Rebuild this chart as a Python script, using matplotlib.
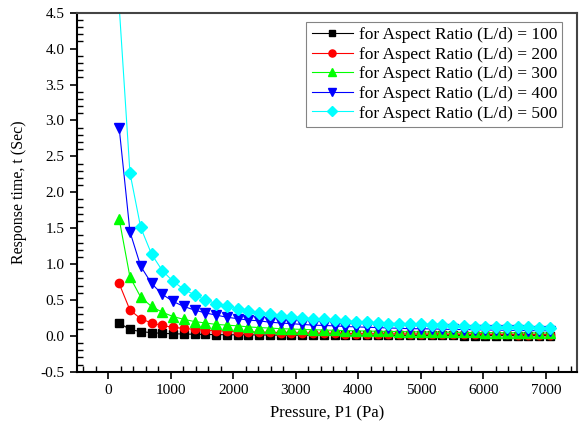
import matplotlib
matplotlib.use("Agg")
import matplotlib.pyplot as plt
from matplotlib.ticker import MultipleLocator

plt.rcParams['font.family'] = ['Liberation Serif', 'DejaVu Serif']
plt.rcParams['axes.unicode_minus'] = False

# inlet pressure P1 (Pa)
pressure = [172, 345, 517, 690, 862, 1034, 1207, 1379, 1551, 1724, 1896,
            2069, 2241, 2413, 2586, 2758, 2930, 3103, 3275, 3447, 3620,
            3792, 3965, 4137, 4309, 4482, 4654, 4826, 4999, 5171, 5343,
            5516, 5688, 5861, 6033, 6205, 6378, 6550, 6722, 6895, 7067]

# response time t (s) for each aspect ratio
t_100 = [0.18, 0.09, 0.06, 0.045, 0.036, 0.03, 0.026, 0.023, 0.02, 0.018,
         0.016, 0.015, 0.014, 0.013, 0.012, 0.011, 0.011, 0.01, 0.009, 0.009,
         0.009, 0.008, 0.008, 0.008, 0.007, 0.007, 0.007, 0.006, 0.006, 0.006,
         0.006, 0.006, 0.005, 0.005, 0.005, 0.005, 0.005, 0.005, 0.005, 0.005,
         0.004]
t_200 = [0.73, 0.36, 0.24, 0.18, 0.145, 0.12, 0.104, 0.091, 0.081, 0.073,
         0.066, 0.06, 0.056, 0.052, 0.048, 0.045, 0.043, 0.04, 0.038, 0.036,
         0.035, 0.033, 0.032, 0.03, 0.029, 0.028, 0.027, 0.026, 0.025, 0.024,
         0.023, 0.023, 0.022, 0.021, 0.021, 0.02, 0.02, 0.019, 0.019, 0.018,
         0.018]
t_300 = [1.63, 0.82, 0.54, 0.41, 0.33, 0.27, 0.23, 0.20, 0.18, 0.16,
         0.15, 0.14, 0.125, 0.116, 0.109, 0.10, 0.096, 0.09, 0.086, 0.082,
         0.078, 0.074, 0.071, 0.068, 0.065, 0.063, 0.06, 0.058, 0.056, 0.054,
         0.053, 0.051, 0.049, 0.048, 0.047, 0.045, 0.044, 0.043, 0.042, 0.041,
         0.04]
t_400 = [2.90, 1.45, 0.97, 0.73, 0.58, 0.48, 0.41, 0.36, 0.32, 0.29,
         0.26, 0.24, 0.22, 0.21, 0.19, 0.18, 0.17, 0.16, 0.15, 0.145,
         0.14, 0.13, 0.126, 0.12, 0.116, 0.11, 0.107, 0.10, 0.10, 0.097,
         0.094, 0.09, 0.088, 0.085, 0.083, 0.08, 0.078, 0.076, 0.074, 0.072,
         0.071]
t_500 = [4.60, 2.27, 1.51, 1.14, 0.91, 0.76, 0.65, 0.57, 0.50, 0.45,
         0.41, 0.38, 0.35, 0.32, 0.30, 0.28, 0.27, 0.25, 0.24, 0.23,
         0.22, 0.21, 0.20, 0.19, 0.18, 0.17, 0.17, 0.16, 0.16, 0.15,
         0.15, 0.14, 0.14, 0.13, 0.13, 0.13, 0.12, 0.12, 0.12, 0.11,
         0.11]

ratios = [100, 200, 300, 400, 500]
series = [t_100, t_200, t_300, t_400, t_500]
colors = ['black', 'red', '#00ff00', 'blue', 'cyan']
markers = ['s', 'o', '^', 'v', 'D']
msizes = [5.5, 6, 7, 7, 6]

fig = plt.figure(figsize=(5.8, 4.23), dpi=100)
ax = fig.add_axes([0.133, 0.121, 0.862, 0.849])

for r, t, c, m, ms in zip(ratios, series, colors, markers, msizes):
    ax.plot(pressure, t, color=c, lw=0.8, marker=m, ms=ms, mec=c, mfc=c,
            label='for Aspect Ratio (L/d) = %d' % r)

ax.set_xlim(-500, 7500)
ax.set_ylim(-0.5, 4.5)
ax.xaxis.set_major_locator(MultipleLocator(1000))
ax.xaxis.set_minor_locator(MultipleLocator(200))
ax.yaxis.set_major_locator(MultipleLocator(0.5))
ax.yaxis.set_minor_locator(MultipleLocator(0.1))
ax.yaxis.set_major_formatter(matplotlib.ticker.FormatStrFormatter('%.1f'))
ax.tick_params(which='major', direction='out', length=5, width=1.2,
               labelsize=11, pad=4)
ax.tick_params(which='minor', direction='in', length=4, width=1.0)
ax.tick_params(top=False, right=False)

for side in ['left', 'bottom']:
    ax.spines[side].set_linewidth(1.5)
    ax.spines[side].set_color('black')
for side in ['top', 'right']:
    ax.spines[side].set_linewidth(1.5)
    ax.spines[side].set_color('#444444')

ax.set_xlabel('Pressure, P1 (Pa)', fontsize=12, labelpad=6)
ax.set_ylabel('Response time, t (Sec)', fontsize=11.5, labelpad=10)

leg = ax.legend(loc='upper right', bbox_to_anchor=(0.97, 0.975),
                fontsize=12.5, frameon=True, fancybox=False,
                handlelength=2.4, handletextpad=0.3, borderpad=0.3,
                labelspacing=0.2, borderaxespad=0, markerscale=0.85)
leg.get_frame().set_edgecolor('#666666')
leg.get_frame().set_linewidth(0.8)

fig.savefig('out.png', dpi=100)
